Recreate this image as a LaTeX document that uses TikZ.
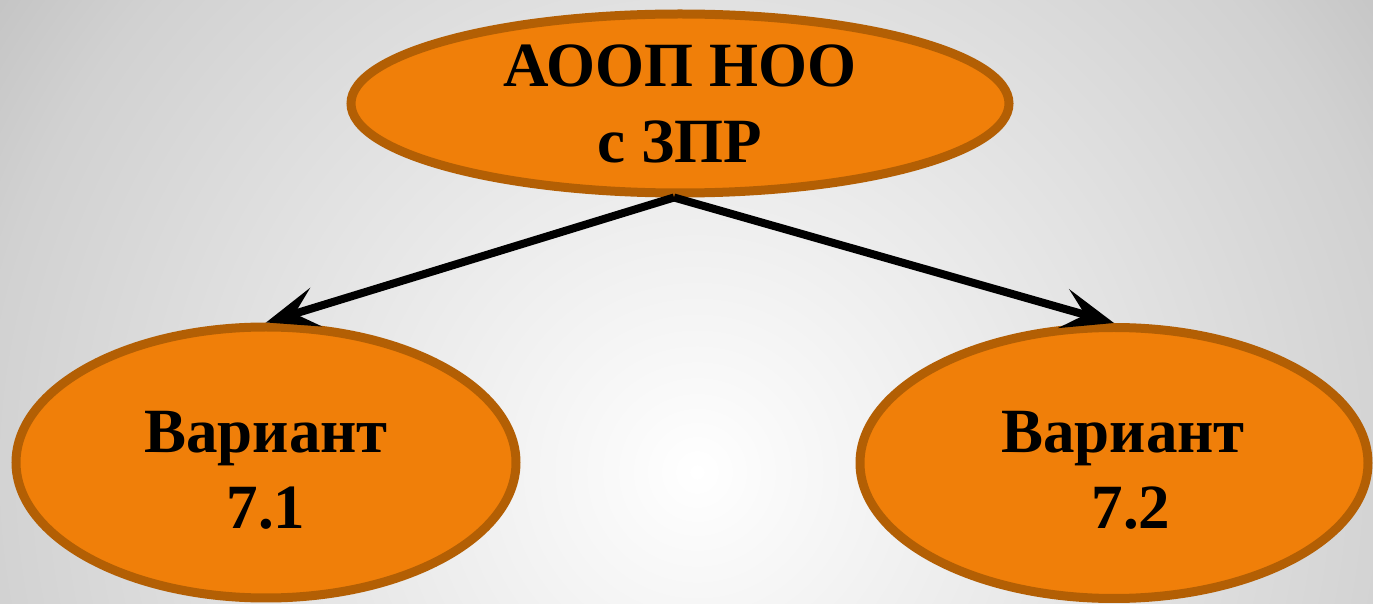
\documentclass[tikz,border=0pt]{standalone}
\usepackage{fontspec}
\setmainfont{Liberation Serif}
\usetikzlibrary{arrows.meta, shapes.geometric}
\definecolor{ovalfill}{HTML}{F07F09}
\definecolor{ovalrim}{HTML}{B35F04}
\newcommand{\padtop}{\rule{0pt}{28pt}}
\pgfdeclareradialshading{backdrop}{\pgfpoint{0bp}{0bp}}{color(0bp)=(white); color(2bp)=(white!98!black); color(20bp)=(black!18); color(23.5bp)=(black!23); color(25bp)=(black!24); color(50bp)=(black!24)}

\begin{document}
\begin{tikzpicture}[x=0.5pt, y=-0.5pt]
    \tikzstyle{oval}=[ellipse, draw=ovalrim, fill=ovalfill, line width=4.5pt, inner sep=0pt, align=center, font=\fontsize{31.5}{38}\selectfont\bfseries]
    \tikzstyle{top oval}=[oval, minimum width=329pt, minimum height=89.5pt]
    \tikzstyle{variant oval}=[oval, minimum height=135.5pt]
    \tikzstyle{link}=[->, >={Stealth[length=26pt, width=20pt, inset=11pt]}, line width=4pt, draw=black]

    % Background
    \useasboundingbox (0,0) rectangle (1373,604);
    \begin{scope}
        \clip (0,0) rectangle (1373,604);
        \shade[shading=backdrop] (697,472) circle[radius=450pt];
    \end{scope}

    % Draw the program node
    \node[top oval] (AOOP) at (680,103.5) {АООП НОО\\с ЗПР};

    % Draw the variant nodes
    \node[variant oval, minimum width=250pt] (V-1) at (266,462.5) {\padtop Вариант\\7.1};
    \node[variant oval, minimum width=254pt] (V-2) at (1114,463) {\padtop\hspace*{9pt}Вариант\\\hspace*{17pt}7.2};

    % Connect the program with every variant
    \foreach \dest in {1,2}
        \draw[link] ([xshift=-3pt]AOOP.south) -- (V-\dest.north);
\end{tikzpicture}
\end{document}
